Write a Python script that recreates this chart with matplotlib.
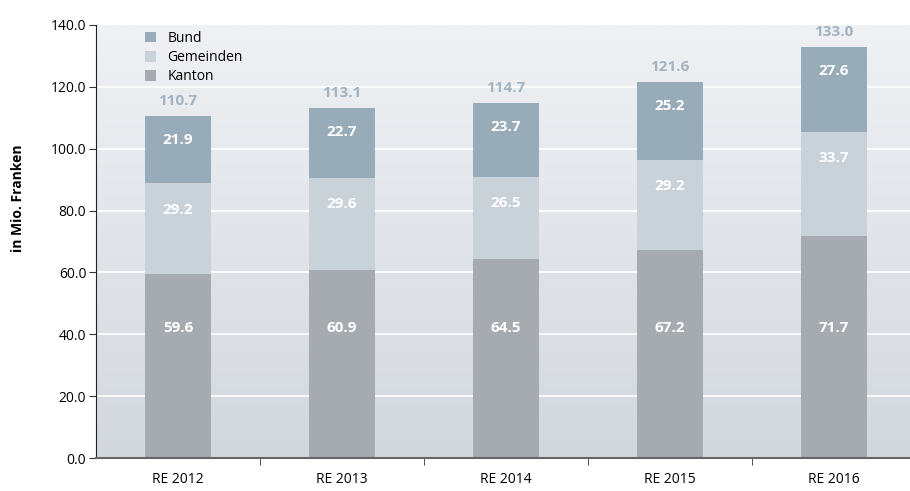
import matplotlib.pyplot as plt
import numpy as np
from matplotlib.colors import LinearSegmentedColormap

plt.rcParams['font.family'] = ['Open Sans', 'DejaVu Sans']

jahre = ['RE 2012', 'RE 2013', 'RE 2014', 'RE 2015', 'RE 2016']
kanton = [59.6, 60.9, 64.5, 67.2, 71.7]
gemeinden = [29.2, 29.6, 26.5, 29.2, 33.7]
bund = [21.9, 22.7, 23.7, 25.2, 27.6]
total = [110.7, 113.1, 114.7, 121.6, 133.0]

c_bund = '#97abb9'
c_gem = '#c9d1d9'
c_kan = '#a6aab1'

fig = plt.figure(figsize=(9.1, 4.91), dpi=100)
ax = fig.add_axes([96/910, 33/491, 814/910, 433/491])

x = np.arange(len(jahre))
ax.set_xlim(-0.5, -0.5 + 814/164)
ax.set_ylim(0, 140)

# Hintergrund mit Verlauf
cmap = LinearSegmentedColormap.from_list('bg', ['#d3d8de', '#eff1f4'])
grad = np.linspace(0, 1, 256).reshape(-1, 1)
ax.imshow(grad, aspect='auto', cmap=cmap, origin='lower',
          extent=[-0.5, -0.5 + 814/164, 0, 140], zorder=0)

for y in range(20, 140, 20):
    ax.axhline(y, color='white', lw=1.2, zorder=1)

w = 0.405
ax.bar(x, kanton, w, color=c_kan, label='Kanton', zorder=2)
ax.bar(x, gemeinden, w, bottom=kanton, color=c_gem, label='Gemeinden', zorder=2)
b2 = np.array(kanton) + np.array(gemeinden)
ax.bar(x, bund, w, bottom=b2, color=c_bund, label='Bund', zorder=2)

for i in range(len(jahre)):
    ax.text(x[i], 42, f'{kanton[i]:.1f}', ha='center', va='center',
            color='white', fontsize=11, fontweight='bold', zorder=3)
    ax.text(x[i], b2[i] - 8.5, f'{gemeinden[i]:.1f}', ha='center', va='center',
            color='white', fontsize=11, fontweight='bold', zorder=3)
    ax.text(x[i], b2[i] + bund[i] - 7.8, f'{bund[i]:.1f}', ha='center', va='center',
            color='white', fontsize=11, fontweight='bold', zorder=3)
    ax.text(x[i], total[i] + 4.8, f'{total[i]:.1f}', ha='center', va='center',
            color='#a3b3c1', fontsize=11, fontweight='bold', zorder=3)

ax.set_yticks(range(0, 141, 20))
ax.set_yticklabels([f'{v:.1f}' for v in range(0, 141, 20)], fontsize=10)
ax.set_xticks(x)
ax.set_xticklabels(jahre, fontsize=10)
ax.set_xticks(np.arange(0.5, 4.5, 1), minor=True)
ax.tick_params(axis='x', which='major', length=0, pad=10)
ax.tick_params(axis='x', which='minor', length=5, color='#333333')
ax.tick_params(axis='y', length=5, color='#333333', pad=2)

for s in ['top', 'right']:
    ax.spines[s].set_visible(False)
ax.spines['left'].set_color('#222222')
ax.spines['bottom'].set_color('#666666')
ax.spines['bottom'].set_linewidth(1.5)

ax.set_ylabel('in Mio. Franken', fontsize=10, fontweight='bold')
ax.yaxis.set_label_coords(-0.087, 0.6)

h, l = ax.get_legend_handles_labels()
ax.legend(h[::-1], l[::-1], loc='upper left', bbox_to_anchor=(0.045, 1.015), frameon=False,
          fontsize=10, handlelength=0.8, handleheight=0.8, labelspacing=0.3,
          handletextpad=0.8)

fig.savefig('out.png', dpi=100)
